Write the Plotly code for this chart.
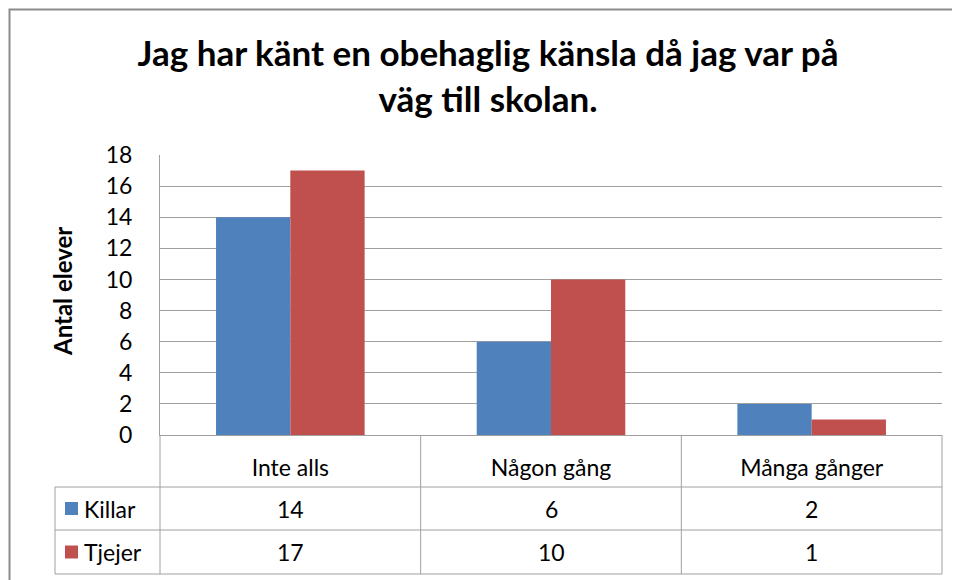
import plotly.graph_objects as go

title = "Jag har känt en obehaglig känsla då jag var på<br>väg till skolan."
categories = ["Inte alls", "Någon gång", "Många gånger"]
series_names = ["Killar", "Tjejer"]
killar = [14, 6, 2]
tjejer = [17, 10, 1]
series_values = [killar, tjejer]
colors = ["#4F81BD", "#C0504D"]
y_ticks = list(range(0, 19, 2))
y_title = "Antal elever"

W, H = 960, 580
OFF = 8  # page body margin
L, R, T, B = 160 - OFF, 942 - OFF, 155 - OFF, 435 - OFF
FONT = "Lato"
LINE = "#A0A0A0"
FS = 23


def px(xp):
    return (xp - OFF - L) / (R - L)


def py(yp):
    return (B - (yp - OFF)) / (B - T)


fig = go.Figure()
for name, vals, col in zip(series_names, series_values, colors):
    fig.add_trace(go.Bar(x=list(range(len(categories))), y=vals, name=name,
                         marker=dict(color=col, line=dict(width=0))))

shapes = []
annotations = []

# outer frame
shapes.append(dict(type="rect", xref="paper", yref="paper",
                   x0=px(9.5), x1=px(990), y0=py(620), y1=py(9.5),
                   line=dict(color="#8C8C8C", width=2), fillcolor="rgba(0,0,0,0)",
                   layer="below"))

row_y = [435, 487, 530, 574]
for yy in row_y[1:]:
    shapes.append(dict(type="line", xref="paper", yref="paper", x0=px(55), x1=px(942),
                       y0=py(yy), y1=py(yy), line=dict(color=LINE, width=1)))
for xp in (160, 942):
    shapes.append(dict(type="line", xref="paper", yref="paper", x0=px(xp), x1=px(xp),
                       y0=py(435), y1=py(574), line=dict(color=LINE, width=1)))
shapes.append(dict(type="line", xref="paper", yref="paper", x0=px(55), x1=px(55),
                   y0=py(487), y1=py(574), line=dict(color=LINE, width=1)))
for i in range(1, len(categories)):
    shapes.append(dict(type="line", xref="x", yref="paper", x0=i - 0.5, x1=i - 0.5,
                       y0=py(435), y1=py(574), line=dict(color=LINE, width=1)))

for r, (name, vals, col) in enumerate(zip(series_names, series_values, colors)):
    yc = (row_y[r + 1] + row_y[r + 2]) / 2
    shapes.append(dict(type="rect", xref="paper", yref="paper",
                       x0=px(65), x1=px(78), y0=py(yc + 6.5), y1=py(yc - 6.5),
                       fillcolor=col, line=dict(width=0)))
    annotations.append(dict(xref="paper", yref="paper", x=px(82), y=py(yc),
                            text=name, showarrow=False, xanchor="left", yanchor="middle",
                            font=dict(family=FONT, size=FS, color="#000")))
    for i, v in enumerate(vals):
        annotations.append(dict(xref="x", yref="paper", x=i, y=py(yc), text=str(v),
                                showarrow=False, xanchor="center", yanchor="middle",
                                font=dict(family=FONT, size=FS, color="#000")))

annotations.append(dict(xref="paper", yref="paper", x=px(62), y=py(292), text=y_title,
                        textangle=-90, showarrow=False, xanchor="center", yanchor="middle",
                        font=dict(family=FONT, size=24, color="#000", weight="bold")))

fig.update_layout(
    width=W, height=H,
    margin=dict(l=L, r=W - R, t=T, b=H - B),
    paper_bgcolor="white", plot_bgcolor="white",
    barmode="group", bargap=0.43, bargroupgap=0,
    showlegend=False,
    title=dict(text=title, x=(488 - OFF) / W, xref="container", xanchor="center",
               y=1 - (66 - OFF) / H, yanchor="middle",
               font=dict(family=FONT, size=35, color="#000", weight="bold")),
    font=dict(family=FONT, size=FS, color="#000"),
    shapes=shapes, annotations=annotations,
)
fig.update_xaxes(range=[-0.5, len(categories) - 0.5], tickvals=list(range(len(categories))),
                 ticktext=categories, showgrid=False, showline=True, linecolor=LINE,
                 linewidth=1, ticks="", ticklabelstandoff=12, zeroline=False,
                 tickfont=dict(family=FONT, size=FS, color="#000"))
fig.update_yaxes(range=[0, 18], tickvals=y_ticks, showgrid=True, gridcolor=LINE, gridwidth=1,
                 showline=True, linecolor=LINE, linewidth=1, ticks="", ticklabelstandoff=22,
                 zeroline=False, tickfont=dict(family=FONT, size=FS, color="#000"))

fig.write_html("out.html")
